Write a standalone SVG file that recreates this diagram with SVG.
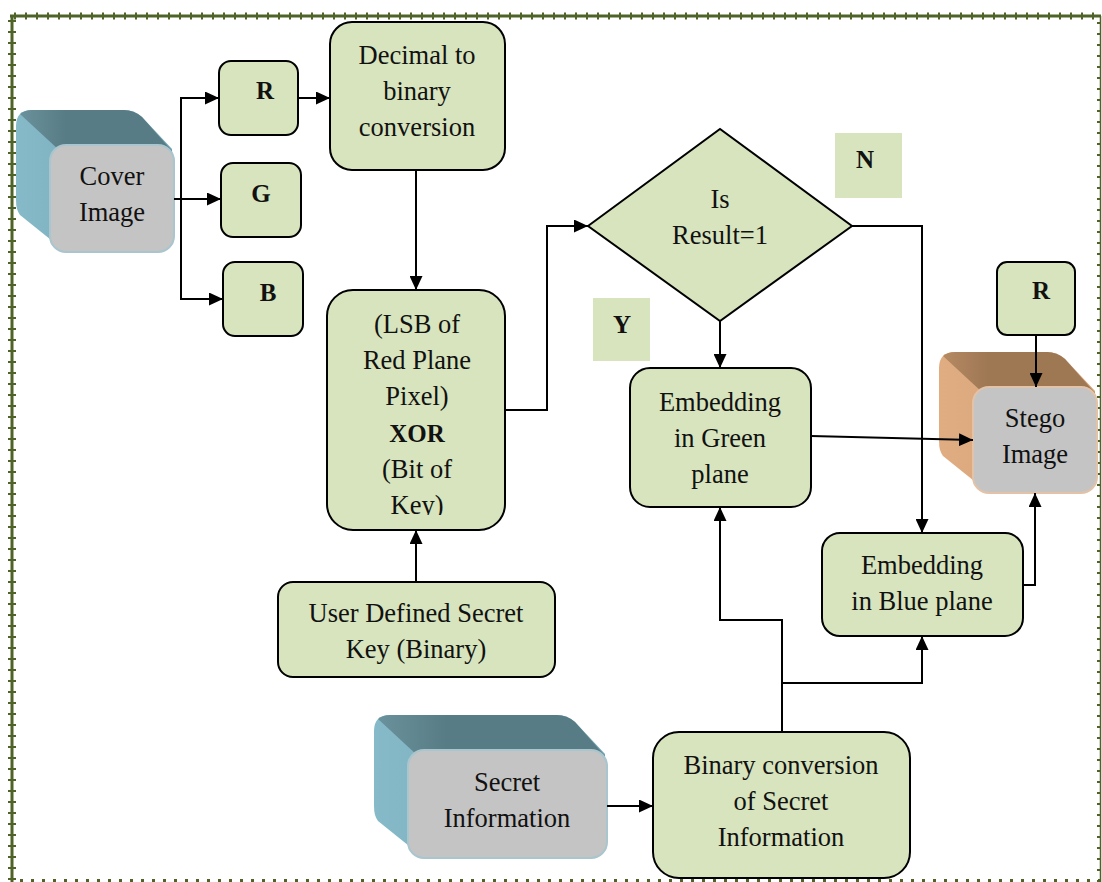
<svg xmlns="http://www.w3.org/2000/svg" width="1102" height="882" viewBox="0 0 1102 882">
  <defs>
    <style>
      .box { fill: #d7e4bd; stroke: #000; stroke-width: 2; }
      .tag { fill: #d7e4bd; stroke: none; }
      .face { fill: #c4c4c4; stroke-width: 2; }
      .t { font-family: "Liberation Serif", "Times New Roman", serif; font-size: 26.5px; fill: #111; text-anchor: middle; }
      .b { font-family: "Liberation Serif", "Times New Roman", serif; font-size: 25px; font-weight: bold; fill: #111; text-anchor: middle; }
      .wire { fill: none; stroke: #000; stroke-width: 2; }
      .arr { marker-end: url(#head); }
      .frame { stroke: #4f6228; fill: none; }
    </style>
    <marker id="head" markerUnits="userSpaceOnUse" viewBox="0 0 14 13" markerWidth="14" markerHeight="13" refX="14" refY="6.5" orient="auto">
      <path d="M0,0 L14,6.5 L0,13 Z" fill="#000"/>
    </marker>
    <linearGradient id="tealSide" x1="0" y1="0" x2="1" y2="0">
      <stop offset="0" stop-color="#86bac8"/>
      <stop offset="1" stop-color="#6fa4b4"/>
    </linearGradient>
    <linearGradient id="tealTop" x1="0" y1="0" x2="1" y2="0">
      <stop offset="0" stop-color="#6a929c"/>
      <stop offset="0.3" stop-color="#587c85"/>
      <stop offset="1" stop-color="#587c85"/>
    </linearGradient>
    <linearGradient id="tanSide" x1="0" y1="0" x2="1" y2="0">
      <stop offset="0" stop-color="#e0ad82"/>
      <stop offset="1" stop-color="#d39f74"/>
    </linearGradient>
    <linearGradient id="tanTop" x1="0" y1="0" x2="1" y2="0">
      <stop offset="0" stop-color="#b58a63"/>
      <stop offset="0.3" stop-color="#9e7753"/>
      <stop offset="1" stop-color="#9e7753"/>
    </linearGradient>
    <clipPath id="lsbClip">
      <rect x="327" y="290" width="178" height="225"/>
    </clipPath>
  </defs>

  <!-- page frame -->
  <g id="frame">
    <path class="frame" d="M10,16 H1101" stroke-width="3"/>
    <path class="frame" d="M14,16 H1101" stroke-width="7" stroke-dasharray="2 9"/>
    <path class="frame" d="M12,16 V882" stroke-width="3"/>
    <path class="frame" d="M12,20 V882" stroke-width="8" stroke-dasharray="2 9"/>
    <path class="frame" d="M1100.5,16 V882" stroke-width="1.5"/>
    <path class="frame" d="M1099,22 V882" stroke-width="4" stroke-dasharray="2 9"/>
    <path class="frame" d="M20,880.5 H1100" stroke-width="3" stroke-dasharray="3 8"/>
  </g>

  <!-- cover image block -->
  <g id="cover-image">
    <path d="M32,110 H124 Q134,110 142,117 L172,149 L174,236 L66,252 L20,215 Q16,210 16,200 V126 Q16,110 32,110 Z" fill="url(#tealSide)"/>
    <path d="M32,110 H124 Q134,110 142,117 L172,151 L60,151 L20,114 Q25,110 32,110 Z" fill="url(#tealTop)"/>
    <rect class="face" x="50" y="145" width="124" height="107" rx="16" stroke="#a9c5cd"/>
    <text class="t" x="112" y="185">Cover</text>
    <text class="t" x="112" y="221">Image</text>
  </g>

  <g id="r-plane">
    <rect class="box" x="219" y="61" width="79" height="74" rx="12"/>
    <text class="b" x="265" y="99">R</text>
  </g>
  <g id="g-plane">
    <rect class="box" x="221" y="163" width="80" height="74" rx="12"/>
    <text class="b" x="261" y="202">G</text>
  </g>
  <g id="b-plane">
    <rect class="box" x="223" y="262" width="80" height="74" rx="12"/>
    <text class="b" x="268" y="301">B</text>
  </g>

  <g id="decimal-to-binary">
    <rect class="box" x="330" y="22" width="175" height="148" rx="22"/>
    <text class="t" x="417" y="64">Decimal to</text>
    <text class="t" x="417" y="100">binary</text>
    <text class="t" x="417" y="136">conversion</text>
  </g>

  <g id="lsb-xor">
    <rect class="box" x="327" y="290" width="178" height="240" rx="26"/>
    <g clip-path="url(#lsbClip)">
      <text class="t" x="417" y="333">(LSB of</text>
      <text class="t" x="417" y="369">Red Plane</text>
      <text class="t" x="417" y="405">Pixel)</text>
      <text class="b" x="417" y="442">XOR</text>
      <text class="t" x="417" y="478">(Bit of</text>
      <text class="t" x="417" y="514">Key)</text>
    </g>
  </g>

  <g id="secret-key">
    <rect class="box" x="278" y="582" width="277" height="95" rx="15"/>
    <text class="t" x="416" y="622">User Defined Secret</text>
    <text class="t" x="416" y="658">Key (Binary)</text>
  </g>

  <g id="decision">
    <polygon class="box" points="588,226 720,129 852,226 720,321"/>
    <text class="t" x="720" y="208">Is</text>
    <text class="t" x="720" y="244">Result=1</text>
  </g>

  <g id="label-n">
    <rect class="tag" x="835" y="133" width="67" height="65"/>
    <text class="b" x="865" y="168">N</text>
  </g>
  <g id="label-y">
    <rect class="tag" x="593" y="298" width="57" height="63"/>
    <text class="b" x="622" y="333">Y</text>
  </g>

  <g id="embed-green">
    <rect class="box" x="630" y="368" width="181" height="139" rx="20"/>
    <text class="t" x="720" y="411">Embedding</text>
    <text class="t" x="720" y="447">in Green</text>
    <text class="t" x="720" y="483">plane</text>
  </g>

  <g id="embed-blue">
    <rect class="box" x="822" y="533" width="201" height="103" rx="18"/>
    <text class="t" x="922" y="574">Embedding</text>
    <text class="t" x="922" y="610">in Blue plane</text>
  </g>

  <g id="r-plane-out">
    <rect class="box" x="997" y="262" width="78" height="73" rx="10"/>
    <text class="b" x="1041" y="299">R</text>
  </g>

  <!-- stego image block -->
  <g id="stego-image">
    <path d="M955,352 H1047 Q1057,352 1065,359 L1095,391 L1097,477 L989,493 L943,456 Q939,451 939,441 V368 Q939,352 955,352 Z" fill="url(#tanSide)"/>
    <path d="M955,352 H1047 Q1057,352 1065,359 L1095,393 L983,393 L943,356 Q948,352 955,352 Z" fill="url(#tanTop)"/>
    <rect class="face" x="973" y="387" width="124" height="106" rx="16" stroke="#e3c3a8"/>
    <text class="t" x="1035" y="427">Stego</text>
    <text class="t" x="1035" y="463">Image</text>
  </g>

  <!-- secret information block -->
  <g id="secret-information">
    <path d="M390,715 H557 Q567,715 575,722 L605,754 L607,842 L424,858 L378,821 Q374,816 374,806 V731 Q374,715 390,715 Z" fill="url(#tealSide)"/>
    <path d="M390,715 H557 Q567,715 575,722 L605,756 L418,756 L378,719 Q383,715 390,715 Z" fill="url(#tealTop)"/>
    <rect class="face" x="408" y="750" width="199" height="108" rx="16" stroke="#a9c5cd"/>
    <text class="t" x="507" y="791">Secret</text>
    <text class="t" x="507" y="827">Information</text>
  </g>

  <g id="binary-conversion">
    <rect class="box" x="653" y="732" width="257" height="146" rx="26"/>
    <text class="t" x="781" y="774">Binary conversion</text>
    <text class="t" x="781" y="810">of Secret</text>
    <text class="t" x="781" y="846">Information</text>
  </g>

  <!-- connectors, drawn over the blocks -->
  <g id="connectors">
    <path class="wire arr" d="M181,199 V98 H219"/>
    <path class="wire arr" d="M174,199 H221"/>
    <path class="wire arr" d="M181,199 V299 H223"/>
    <path class="wire arr" d="M298,98 H330"/>
    <path class="wire arr" d="M416,170 V290"/>
    <path class="wire arr" d="M416,582 V530"/>
    <path class="wire arr" d="M505,410 H547 V226 H588"/>
    <path class="wire arr" d="M720,321 V368"/>
    <path class="wire arr" d="M852,226 H922 V533"/>
    <path class="wire arr" d="M811,436 L973,440"/>
    <path class="wire arr" d="M1023,585 H1035 V493"/>
    <path class="wire arr" d="M1036,335 V387"/>
    <path class="wire arr" d="M607,806 H653"/>
    <path class="wire arr" d="M782,732 V620 H720 V507"/>
    <path class="wire arr" d="M782,683 H922 V636"/>
  </g>
</svg>
